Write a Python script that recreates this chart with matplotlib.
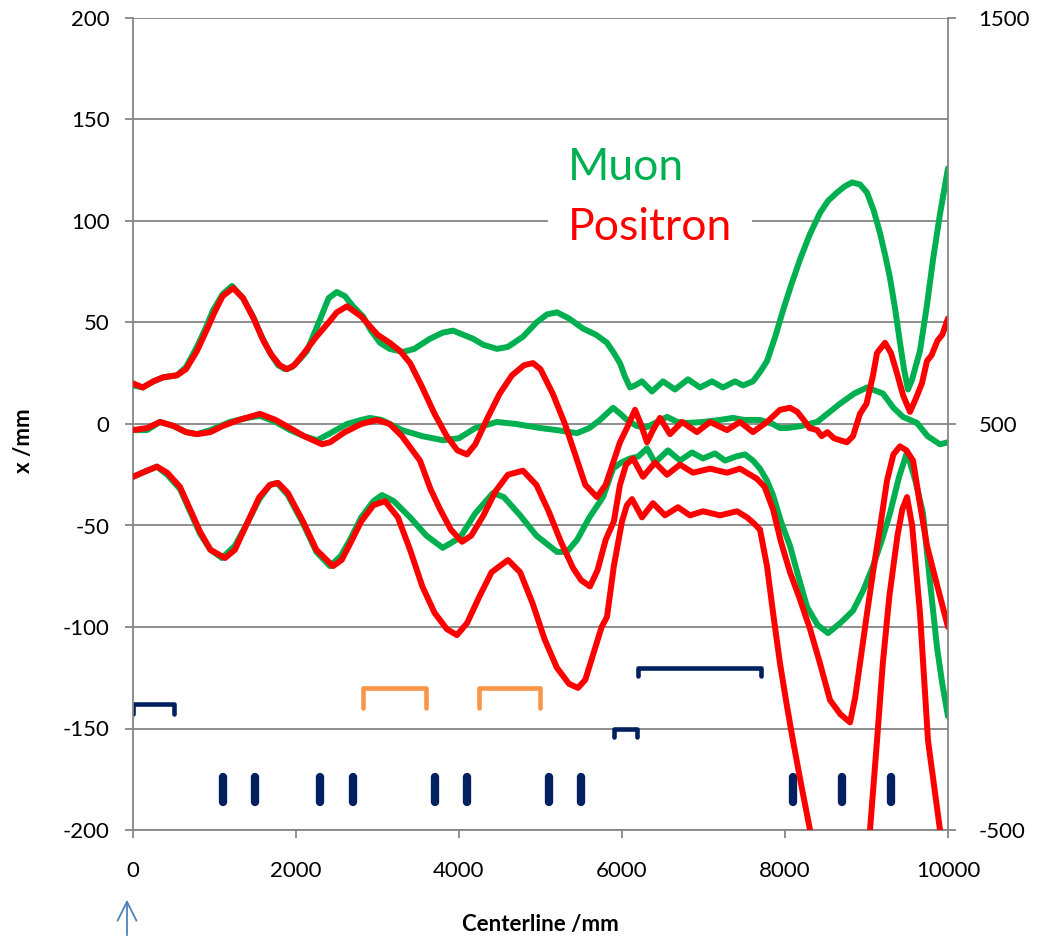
import matplotlib
matplotlib.use('Agg')
import matplotlib.pyplot as plt

plt.rcParams['font.family'] = ['Lato', 'DejaVu Sans']
plt.rcParams['axes.unicode_minus'] = False

# ---- data ----
# muon, upper envelope
mu_top_x = [0, 120, 250, 370, 540, 650, 785, 900, 982, 1100, 1215, 1350, 1472, 1580, 1681, 1780, 1865,
            1950, 2050, 2135, 2300, 2400, 2500, 2600, 2700, 2822, 2920, 3031, 3150, 3313, 3450, 3644,
            3800, 3926, 4050, 4172, 4300, 4466, 4600, 4785, 4950, 5080, 5202, 5350, 5521, 5680, 5816,
            5900, 5975, 6040, 6098, 6160, 6245, 6368, 6503, 6650, 6810, 6957, 7104, 7239, 7387, 7485,
            7607, 7700, 7779, 7880, 7976, 8080, 8184, 8300, 8429, 8530, 8638, 8730, 8822, 8920, 9006,
            9090, 9166, 9230, 9288, 9350, 9411, 9460, 9509, 9560, 9656, 9740, 9816, 9900, 10000]
mu_top_y = [19, 18, 21, 23, 24, 28, 38, 48, 56, 64, 68, 62, 53, 43, 35, 29, 27,
            28, 32, 36, 52, 62, 65, 63, 58, 53, 46, 40, 37, 35.5, 37, 42,
            45, 46, 44, 42, 39, 37, 38, 43, 50, 54, 55, 52, 47, 44, 40,
            35, 30, 23, 18, 19, 21, 16, 21, 17, 22, 18, 21, 18, 21, 19,
            21, 26, 31, 43, 56, 69, 81, 93, 104, 110, 114, 117, 119, 118, 114,
            105, 94, 83, 72, 57, 40, 27, 17, 22, 36, 58, 81, 103, 126]

# positron, upper envelope
pos_top_x = [0, 120, 250, 370, 540, 650, 785, 900, 1000, 1100, 1230, 1350, 1480, 1600, 1700, 1800, 1890,
             1980, 2100, 2250, 2400, 2500, 2626, 2800, 3000, 3150, 3276, 3400, 3550, 3700, 3850, 3980,
             4098, 4200, 4350, 4500, 4650, 4800, 4908, 5000, 5150, 5300, 5450, 5550, 5693, 5800, 5900,
             5975, 6060, 6160, 6230, 6307, 6380, 6466, 6589, 6736, 6920, 7080, 7288, 7448, 7607, 7779,
             7939, 8061, 8150, 8230, 8300, 8393, 8450, 8520, 8600, 8675, 8760, 8834, 8920, 9000, 9080,
             9129, 9227, 9300, 9374, 9450, 9534, 9600, 9680, 9742, 9800, 9870, 9930, 10000]
pos_top_y = [20, 18, 21, 23, 24, 27, 36, 46, 55, 63, 67, 62, 52, 41, 34, 29, 27,
             29, 35, 43, 50, 55, 58, 53, 44, 40, 36, 30, 18, 5, -6, -13,
             -15, -10, 3, 15, 24, 29, 30, 27, 15, 0, -18, -30, -36, -30, -18,
             -9, -2, 7, 0, -9, -3, 3, -5, 1, -4, 1, -3, 1, -4, 1,
             7, 8, 6, 2, -2, -3, -6, -4, -7, -8, -9, -6, 5, 10, 24,
             35, 40, 35, 25, 14, 6, 12, 20, 31, 34, 41, 44, 52]

# muon, centre
mu_mid_x = [0, 172, 331, 500, 650, 785, 950, 1190, 1400, 1558, 1750, 1926, 2100, 2258, 2400, 2626, 2800,
            2908, 3050, 3300, 3550, 3804, 4000, 4200, 4466, 4700, 5000, 5200, 5448, 5600, 5730, 5890,
            5980, 6061, 6180, 6307, 6430, 6552, 6680, 6798, 7000, 7200, 7362, 7500, 7693, 7850, 7939,
            8025, 8200, 8393, 8550, 8675, 8850, 9006, 9202, 9330, 9448, 9620, 9750, 9902, 10000]
mu_mid_y = [-3, -3, 1, -1, -4, -5, -3, 1, 3, 4, 1, -3, -6, -8, -5, 0, 2,
            3, 2, -3, -6, -8, -7, -2, 1, 0, -2, -3, -4.5, -2, 2, 8,
            5, 2, -1, -1.5, 1, 3.5, 1, 0.5, 1, 2, 3, 2, 2, 0, -2,
            -2, -1, 1, 6, 10, 15, 18, 15, 8, 3.5, 0.5, -6, -10, -9]

# positron, centre
pos_mid_x = [0, 172, 331, 500, 650, 785, 950, 1100, 1300, 1558, 1750, 1926, 2100, 2319, 2417, 2600, 2800,
             2994, 3150, 3300, 3521, 3650, 3767, 3900, 4037, 4150, 4300, 4450, 4600, 4785, 4950, 5100,
             5250, 5400, 5500, 5607, 5700, 5800, 5900, 5975, 6050, 6135, 6258, 6405, 6552, 6712, 6871,
             7080, 7288, 7448, 7656, 7750, 7853, 7950, 8061, 8180, 8307, 8430, 8552, 8680, 8798, 8860,
             8920, 9000, 9080, 9170, 9251, 9330, 9411, 9490, 9571, 9650, 9742, 9870, 10000]
pos_mid_y = [-3, -2, 1, -1, -4, -5, -4, -1, 2, 5, 2, -2, -6, -10, -9, -4, 0,
             2, 0, -6, -18, -32, -42, -52, -58, -55, -45, -33, -25, -23, -30, -43,
             -58, -71, -77, -80, -72, -57, -48, -30, -20, -17, -26, -19, -25, -20, -24,
             -22, -24, -22, -27, -31, -42, -58, -73, -86, -101, -118, -136, -143, -147, -135,
             -118, -95, -73, -50, -28, -15, -11, -13, -18, -38, -60, -80, -100]

# muon, lower envelope
mu_bot_x = [0, 172, 294, 420, 577, 700, 822, 950, 1092, 1250, 1399, 1550, 1680, 1767, 1900, 2086, 2250,
            2417, 2550, 2663, 2800, 2950, 3055, 3200, 3400, 3600, 3800, 4012, 4200, 4417, 4550, 4750,
            4950, 5202, 5325, 5450, 5600, 5767, 5890, 5990, 6098, 6200, 6307, 6405, 6564, 6712, 6859,
            6994, 7141, 7264, 7400, 7509, 7607, 7693, 7780, 7853, 7950, 8061, 8170, 8270, 8400, 8528,
            8680, 8834, 8960, 9080, 9190, 9288, 9400, 9497, 9600, 9693, 9780, 9865, 9930, 10000]
mu_bot_y = [-26, -23, -21, -25, -32, -43, -54, -62, -66, -60, -49, -37, -30, -29, -35, -49, -63,
            -70, -65, -57, -46, -38, -35, -38, -46, -55, -61, -56, -44, -34, -36, -45,
            -55, -63, -63, -57, -46, -36, -22, -19, -17, -16, -12, -19, -13, -18, -14,
            -17, -14.5, -18, -16, -15, -18, -22, -28, -35, -48, -60, -76, -90, -99, -103,
            -98, -92, -82, -70, -57, -44, -26, -14, -28, -44, -78, -110, -128, -144]

# positron, lower envelope
pos_bot_x = [0, 172, 294, 420, 577, 700, 822, 950, 1129, 1250, 1399, 1550, 1680, 1780, 1900, 2086, 2250,
             2454, 2560, 2663, 2800, 2950, 3092, 3250, 3400, 3550, 3700, 3850, 3975, 4100, 4250, 4400,
             4601, 4750, 4900, 5050, 5200, 5350, 5460, 5550, 5650, 5750, 5816, 5900, 6000, 6060, 6123,
             6245, 6380, 6527, 6687, 6834, 6994, 7202, 7411, 7534, 7620, 7693, 7779, 7860, 7939, 8020,
             8098, 8200, 8307, 8450, 8650, 8850, 9043, 9129, 9200, 9280, 9380, 9440, 9497, 9560, 9656,
             9755, 9902, 10000]
pos_bot_y = [-26, -23, -21, -24, -31, -42, -53, -62, -66, -62, -49, -36, -30, -29, -34, -48, -62,
             -70, -67, -59, -48, -40, -38, -46, -62, -80, -93, -101, -104, -98, -85, -73,
             -67, -73, -88, -106, -120, -128, -130, -126, -113, -100, -95, -70, -48, -40, -37,
             -46, -39, -45, -41, -45, -43, -45, -43, -46, -49, -52, -70, -95, -118, -138,
             -156, -178, -200, -230, -250, -235, -200, -156, -118, -85, -55, -42, -36, -50, -93,
             -156, -200, -225]

# beamline elements (bottom of plot)
navy_brk_x0 = [0, 6200, 5900]
navy_brk_x1 = [500, 7700, 6180]
navy_brk_top = [-138, -120, -150]
navy_brk_leg = [-143, -124, -154]
orange_brk_x0 = [2820, 4240]
orange_brk_x1 = [3600, 4990]
orange_brk_top = [-130, -130]
orange_brk_leg = [-140, -140]
magnet_x = [1100, 1500, 2300, 2700, 3700, 4100, 5100, 5500, 8100, 8700, 9300]
magnet_y0, magnet_y1 = -174, -186

GREEN = '#00B050'
RED = '#FF0000'
NAVY = '#002060'
ORANGE = '#F79646'
GRID = '#868686'

fig = plt.figure(figsize=(10.41, 9.38), dpi=100)
ax = fig.add_axes([133/1041, 1 - 830/938, 815/1041, 812/938])

lw = 4.3
for xs, ys, c in [(mu_top_x, mu_top_y, GREEN), (mu_mid_x, mu_mid_y, GREEN), (mu_bot_x, mu_bot_y, GREEN),
                  (pos_top_x, pos_top_y, RED), (pos_mid_x, pos_mid_y, RED), (pos_bot_x, pos_bot_y, RED)]:
    ax.plot(xs, ys, color=c, lw=lw, solid_joinstyle='round', solid_capstyle='round', zorder=3)

for x0, x1, yt, yl in zip(navy_brk_x0, navy_brk_x1, navy_brk_top, navy_brk_leg):
    ax.plot([x0, x0, x1, x1], [yl, yt, yt, yl], color=NAVY, lw=3.3,
            solid_joinstyle='round', solid_capstyle='round', zorder=2)
for x0, x1, yt, yl in zip(orange_brk_x0, orange_brk_x1, orange_brk_top, orange_brk_leg):
    ax.plot([x0, x0, x1, x1], [yl, yt, yt, yl], color=ORANGE, lw=3.3,
            solid_joinstyle='round', solid_capstyle='round', zorder=2)
for mx in magnet_x:
    ax.plot([mx, mx], [magnet_y0, magnet_y1], color=NAVY, lw=6, solid_capstyle='round', zorder=2)

ax.set_xlim(0, 10000)
ax.set_ylim(-200, 200)
ax.set_xticks(range(0, 10001, 2000))
ax.set_yticks(range(-200, 201, 50))
ax.yaxis.grid(True, color=GRID, lw=1.3, zorder=0)
ax.set_axisbelow(True)

for s in ['top', 'right']:
    ax.spines[s].set_visible(False)
for s in ['left', 'bottom']:
    ax.spines[s].set_color(GRID)
    ax.spines[s].set_linewidth(1.3)

ax.tick_params(axis='y', direction='out', length=6, width=1.3, color=GRID, pad=11, labelsize=16)
ax.tick_params(axis='x', direction='out', length=6, width=1.3, color=GRID, pad=16, labelsize=16)

ax2 = ax.twinx()
ax2.set_ylim(-500, 1500)
ax2.set_yticks([-500, 500, 1500])
for s in ['top', 'left', 'bottom']:
    ax2.spines[s].set_visible(False)
ax2.spines['right'].set_color(GRID)
ax2.spines['right'].set_linewidth(1.3)
ax2.tick_params(axis='y', direction='out', length=6, width=1.3, color=GRID, pad=16, labelsize=16)

ax.set_xlabel('Centerline /mm', fontsize=16, fontweight='bold')
ax.xaxis.set_label_coords(0.5, -0.104)
ax.set_ylabel('x /mm', fontsize=16, fontweight='bold')
ax.yaxis.set_label_coords(-0.122, 0.48)

ax.text(5337, 120, 'Muon', color=GREEN, fontsize=32, ha='left', va='baseline', zorder=5)
ax.text(5337, 90.5, 'Positron', color=RED, fontsize=32, ha='left', va='baseline', zorder=5,
        bbox=dict(facecolor='white', edgecolor='none', pad=14))

# arrow marking the start of the centerline
ax.annotate('', xy=(127/1041, 1 - 897/938), xytext=(127/1041, 0), xycoords='figure fraction',
            arrowprops=dict(arrowstyle='->', color='#4F81BD', lw=1.3, mutation_scale=34))

fig.savefig('out.png', dpi=100, facecolor='white')
